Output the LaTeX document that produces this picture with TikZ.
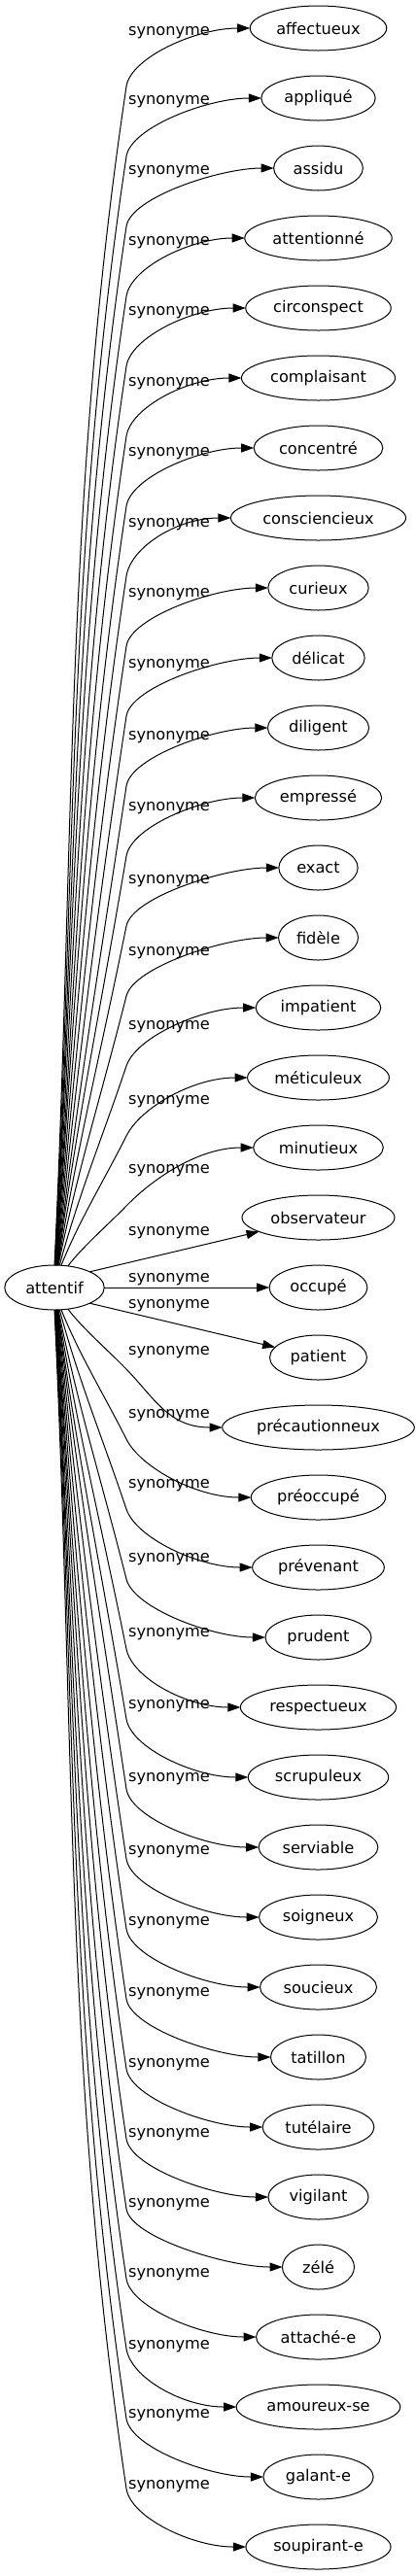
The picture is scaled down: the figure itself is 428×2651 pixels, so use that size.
\documentclass[tikz,border=0pt]{standalone}
\usepackage{fontspec}
\setmainfont{DejaVu Sans}
\usetikzlibrary{arrows.meta,positioning,calc,shapes.geometric}
\tikzset{
lexeme/.style={
  ellipse, draw=black, line width=1pt, outer sep=0pt,
  inner xsep=6.5pt, inner ysep=3pt,
  minimum width=74pt, minimum height=46pt,
  font=\fontsize{16.2pt}{19pt}\selectfont
  },
relname/.style={
  inner sep=0pt, font=\fontsize{16.2pt}{19pt}\selectfont
  },
straightlink/.style={
  line width=1pt, -{Triangle[length=13pt,width=9pt]}
  },
synlink/.style={
  straightlink,
  to path={
    let \p1=(\tikztostart), \p2=(\tikztotarget.west),
        \n1={sign(\y2-\y1)},
        \p3=(130pt,{\y2-(\n1)*60pt}),
        \n2={0.35*abs(\y3-\y1)},
        \n3={max(0.15,(\x3-\x1)/abs(\y3-\y1))},
        \p4=({\x1+0.8*(\x3-\x1)},\y3)
    in .. controls ($(\p1)!0.35!(\p4)$) and ({\x3-\n3*\n2*1pt},{\y3-(\n1)*\n2*1pt}) .. (\p3)
       .. controls ({\x3+\n3*30pt},{\y3+(\n1)*30pt}) and ({\x2-55pt},\y2) .. (\tikztotarget) \tikztonodes
    }
  }
}

\begin{document}
\begin{tikzpicture}[x=1pt,y=1pt]
\useasboundingbox (0,0) rectangle (428,-2651);

% root

\node[lexeme, minimum width=102pt] (attentif) at (56,-1325) {attentif};

% synonyms

\node[lexeme] (syn-0) at (327.5,-29) {affectueux};
\node[lexeme, below=26pt of syn-0] (syn-1) {appliqué};
\node[lexeme, below=26pt of syn-1] (syn-2) {assidu};
\node[lexeme, below=26pt of syn-2] (syn-3) {attentionné};
\node[lexeme, below=26pt of syn-3] (syn-4) {circonspect};
\node[lexeme, below=26pt of syn-4] (syn-5) {complaisant};
\node[lexeme, below=26pt of syn-5] (syn-6) {concentré};
\node[lexeme, below=26pt of syn-6] (syn-7) {consciencieux};
\node[lexeme, below=26pt of syn-7] (syn-8) {curieux};
\node[lexeme, below=26pt of syn-8] (syn-9) {délicat};
\node[lexeme, below=26pt of syn-9] (syn-10) {diligent};
\node[lexeme, below=26pt of syn-10] (syn-11) {empressé};
\node[lexeme, below=26pt of syn-11] (syn-12) {exact};
\node[lexeme, below=26pt of syn-12] (syn-13) {fidèle};
\node[lexeme, below=26pt of syn-13] (syn-14) {impatient};
\node[lexeme, below=26pt of syn-14] (syn-15) {méticuleux};
\node[lexeme, below=26pt of syn-15] (syn-16) {minutieux};
\node[lexeme, below=26pt of syn-16] (syn-17) {observateur};
\node[lexeme, below=26pt of syn-17] (syn-18) {occupé};
\node[lexeme, below=26pt of syn-18] (syn-19) {patient};
\node[lexeme, below=26pt of syn-19] (syn-20) {précautionneux};
\node[lexeme, below=26pt of syn-20] (syn-21) {préoccupé};
\node[lexeme, below=26pt of syn-21] (syn-22) {prévenant};
\node[lexeme, below=26pt of syn-22] (syn-23) {prudent};
\node[lexeme, below=26pt of syn-23] (syn-24) {respectueux};
\node[lexeme, below=26pt of syn-24] (syn-25) {scrupuleux};
\node[lexeme, below=26pt of syn-25] (syn-26) {serviable};
\node[lexeme, below=26pt of syn-26] (syn-27) {soigneux};
\node[lexeme, below=26pt of syn-27] (syn-28) {soucieux};
\node[lexeme, below=26pt of syn-28] (syn-29) {tatillon};
\node[lexeme, below=26pt of syn-29] (syn-30) {tutélaire};
\node[lexeme, below=26pt of syn-30] (syn-31) {vigilant};
\node[lexeme, below=26pt of syn-31] (syn-32) {zélé};
\node[lexeme, below=26pt of syn-32] (syn-33) {attaché-e};
\node[lexeme, below=26pt of syn-33] (syn-34) {amoureux-se};
\node[lexeme, below=26pt of syn-34] (syn-35) {galant-e};
\node[lexeme, below=26pt of syn-35] (syn-36) {soupirant-e};

% links above the root

\draw[synlink] (attentif.90) to (syn-0);
\draw[synlink] (attentif.89) to (syn-1);
\draw[synlink] (attentif.88) to (syn-2);
\draw[synlink] (attentif.88) to (syn-3);
\draw[synlink] (attentif.87) to (syn-4);
\draw[synlink] (attentif.86) to (syn-5);
\draw[synlink] (attentif.86) to (syn-6);
\draw[synlink] (attentif.85) to (syn-7);
\draw[synlink] (attentif.84) to (syn-8);
\draw[synlink] (attentif.83) to (syn-9);
\draw[synlink] (attentif.82) to (syn-10);
\draw[synlink] (attentif.82) to (syn-11);
\draw[synlink] (attentif.81) to (syn-12);
\draw[synlink] (attentif.80) to (syn-13);
\draw[synlink] (attentif.77) to (syn-14);
\draw[synlink] (attentif.73) to (syn-15);
\draw[synlink] (attentif.58) to (syn-16);

% straight links

\draw[straightlink] (attentif.24) -- (syn-17);
\draw[straightlink] (attentif) -- (syn-18);
\draw[straightlink] (attentif.-24) -- (syn-19);

% links below the root

\draw[synlink] (attentif.-58) to (syn-20);
\draw[synlink] (attentif.-73) to (syn-21);
\draw[synlink] (attentif.-77) to (syn-22);
\draw[synlink] (attentif.-80) to (syn-23);
\draw[synlink] (attentif.-81) to (syn-24);
\draw[synlink] (attentif.-82) to (syn-25);
\draw[synlink] (attentif.-82) to (syn-26);
\draw[synlink] (attentif.-83) to (syn-27);
\draw[synlink] (attentif.-84) to (syn-28);
\draw[synlink] (attentif.-85) to (syn-29);
\draw[synlink] (attentif.-86) to (syn-30);
\draw[synlink] (attentif.-86) to (syn-31);
\draw[synlink] (attentif.-87) to (syn-32);
\draw[synlink] (attentif.-88) to (syn-33);
\draw[synlink] (attentif.-88) to (syn-34);
\draw[synlink] (attentif.-89) to (syn-35);
\draw[synlink] (attentif.-90) to (syn-36);

% relation names

\node[relname] (lab-0) at (174,-34) {synonyme};
\node[relname] (lab-1) at (174,-105) {synonyme};
\node[relname] (lab-2) at (174,-177) {synonyme};
\node[relname] (lab-3) at (174,-250) {synonyme};
\node[relname] (lab-4) at (174,-322) {synonyme};
\node[relname] (lab-5) at (174,-395) {synonyme};
\node[relname] (lab-6) at (174,-467) {synonyme};
\node[relname] (lab-7) at (174,-540) {synonyme};
\node[relname] (lab-8) at (174,-612) {synonyme};
\node[relname] (lab-9) at (174,-685) {synonyme};
\node[relname] (lab-10) at (174,-759) {synonyme};
\node[relname] (lab-11) at (174,-832) {synonyme};
\node[relname] (lab-12) at (174,-907) {synonyme};
\node[relname] (lab-13) at (174,-981) {synonyme};
\node[relname] (lab-14) at (174,-1057) {synonyme};
\node[relname] (lab-15) at (174,-1134) {synonyme};
\node[relname] (lab-16) at (174,-1205) {synonyme};
\node[relname] (lab-17) at (174,-1269) {synonyme};
\node[relname] (lab-18) at (174,-1317) {synonyme};
\node[relname] (lab-19) at (174,-1344) {synonyme};
\node[relname] (lab-20) at (174,-1392) {synonyme};
\node[relname] (lab-21) at (174,-1457) {synonyme};
\node[relname] (lab-22) at (174,-1529) {synonyme};
\node[relname] (lab-23) at (174,-1605) {synonyme};
\node[relname] (lab-24) at (174,-1682) {synonyme};
\node[relname] (lab-25) at (174,-1756) {synonyme};
\node[relname] (lab-26) at (174,-1831) {synonyme};
\node[relname] (lab-27) at (174,-1906) {synonyme};
\node[relname] (lab-28) at (174,-1979) {synonyme};
\node[relname] (lab-29) at (174,-2052) {synonyme};
\node[relname] (lab-30) at (174,-2125) {synonyme};
\node[relname] (lab-31) at (174,-2197) {synonyme};
\node[relname] (lab-32) at (174,-2269) {synonyme};
\node[relname] (lab-33) at (174,-2341) {synonyme};
\node[relname] (lab-34) at (174,-2415) {synonyme};
\node[relname] (lab-35) at (174,-2486) {synonyme};
\node[relname] (lab-36) at (174,-2559) {synonyme};

\end{tikzpicture}
\end{document}
